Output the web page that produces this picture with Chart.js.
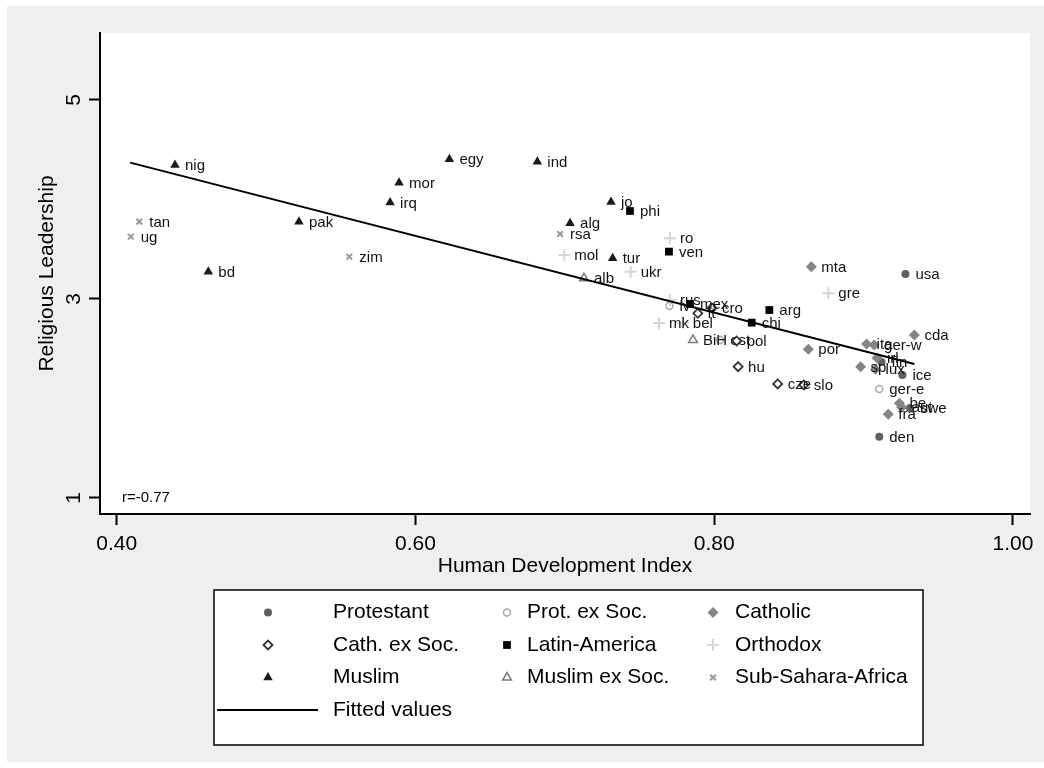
<!DOCTYPE html>
<html>
<head>
<meta charset="utf-8">
<script src="https://cdn.jsdelivr.net/npm/chart.js@4.4.1/dist/chart.umd.min.js"></script>
<style>
  html, body { margin: 0; padding: 0; background: #fff; }
  #wrap { width: 1044px; height: 768px; }
</style>
</head>
<body>
<div id="wrap"><canvas id="c" width="1044" height="768"></canvas></div>
<script>
// Human Development Index (x) vs. Religious Leadership (y), by country group

const protNames = ['usa', 'den', 'fin', 'ice', 'swe'];
const protHDI   = [0.928, 0.9105, 0.912, 0.926, 0.931];
const protRel   = [3.251, 1.616, 2.367, 2.236, 1.905];

const protSocNames = ['lv', 'est', 'ger-e'];
const protSocHDI   = [0.770, 0.804, 0.9105];
const protSocRel   = [2.930, 2.588, 2.095];

const cathNames = ['mta', 'por', 'cda', 'ita', 'ger-w', 'irl', 'sp', 'lux', 'be', 'aut', 'fra'];
const cathHDI   = [0.865, 0.863, 0.934, 0.902, 0.907, 0.909, 0.898, 0.908, 0.924, 0.9255, 0.9165];
const cathRel   = [3.325, 2.494, 2.638, 2.548, 2.538, 2.407, 2.320, 2.293, 1.952, 1.912, 1.841];

const cathSocNames = ['lt', 'cro', 'pol', 'hu', 'cze', 'slo'];
const cathSocHDI   = [0.789, 0.7985, 0.815, 0.816, 0.8425, 0.860];
const cathSocRel   = [2.856, 2.910, 2.578, 2.320, 2.146, 2.136];

const latinNames = ['phi', 'ven', 'mex', 'arg', 'chi'];
const latinHDI   = [0.7436, 0.7697, 0.7838, 0.8369, 0.8251];
const latinRel   = [3.884, 3.476, 2.950, 2.889, 2.762];

const orthNames = ['mol', 'ro', 'ukr', 'rus', 'mk', 'bel', 'gre'];
const orthHDI   = [0.6996, 0.7704, 0.7441, 0.7704, 0.763, 0.779, 0.8764];
const orthRel   = [3.442, 3.610, 3.274, 2.990, 2.759, 2.760, 3.057];

const muslNames = ['nig', 'bd', 'pak', 'irq', 'mor', 'egy', 'ind', 'jo', 'alg', 'tur'];
const muslHDI   = [0.439, 0.4613, 0.522, 0.583, 0.589, 0.6227, 0.6816, 0.7309, 0.7035, 0.732];
const muslRel   = [4.347, 3.274, 3.777, 3.970, 4.169, 4.404, 4.380, 3.975, 3.761, 3.409];

const muslSocNames = ['alb', 'BiH'];
const muslSocHDI   = [0.7128, 0.7858];
const muslSocRel   = [3.208, 2.588];

const ssaNames = ['tan', 'ug', 'zim', 'rsa'];
const ssaHDI   = [0.4151, 0.4094, 0.5557, 0.6968];
const ssaRel   = [3.777, 3.626, 3.425, 3.653];

// Linear fit, endpoints
const fitHDI = [0.409, 0.934];
const fitRel = [4.370, 2.347];

const xTicks = [0.40, 0.60, 0.80, 1.00];
const yTicks = [1, 3, 5];
const correlationText = 'r=-0.77';

const FONT = '"Liberation Sans", Arial, Helvetica, sans-serif';

function pts(xs, ys) { return xs.map((x, i) => ({ x: x, y: ys[i] })); }

function group(label, names, xs, ys, style) {
  return Object.assign({
    label: label,
    names: names,
    data: pts(xs, ys),
    showLine: false
  }, style);
}

const groups = [
  group('Protestant', protNames, protHDI, protRel,
    { pointStyle: 'circle', pointRadius: 4, backgroundColor: '#606060', borderColor: '#606060', borderWidth: 0 }),
  group('Prot. ex Soc.', protSocNames, protSocHDI, protSocRel,
    { pointStyle: 'circle', pointRadius: 3.5, backgroundColor: '#ffffff', borderColor: '#a8a8a8', borderWidth: 1.5 }),
  group('Catholic', cathNames, cathHDI, cathRel,
    { pointStyle: 'rectRot', pointRadius: 5.5, backgroundColor: '#858585', borderColor: '#858585', borderWidth: 0 }),
  group('Cath. ex Soc.', cathSocNames, cathSocHDI, cathSocRel,
    { pointStyle: 'rectRot', pointRadius: 4.5, backgroundColor: '#ffffff', borderColor: '#333333', borderWidth: 1.8 }),
  group('Latin-America', latinNames, latinHDI, latinRel,
    { pointStyle: 'rect', pointRadius: 5.5, backgroundColor: '#000000', borderColor: '#000000', borderWidth: 0 }),
  group('Orthodox', orthNames, orthHDI, orthRel,
    { pointStyle: 'cross', pointRadius: 6, backgroundColor: '#d6d6d6', borderColor: '#d6d6d6', borderWidth: 2 }),
  group('Muslim', muslNames, muslHDI, muslRel,
    { pointStyle: 'triangle', pointRadius: 5.5, backgroundColor: '#1a1a1a', borderColor: '#1a1a1a', borderWidth: 0 }),
  group('Muslim ex Soc.', muslSocNames, muslSocHDI, muslSocRel,
    { pointStyle: 'triangle', pointRadius: 5, backgroundColor: '#ffffff', borderColor: '#7a7a7a', borderWidth: 1.5 }),
  group('Sub-Sahara-Africa', ssaNames, ssaHDI, ssaRel,
    { pointStyle: 'crossRot', pointRadius: 4, backgroundColor: '#999999', borderColor: '#999999', borderWidth: 2 })
];

// later groups sit on top of earlier ones; fitted line on top of all
groups.forEach((g, i) => { g.order = 20 - i; });

const fitted = {
  label: 'Fitted values',
  data: pts(fitHDI, fitRel),
  showLine: true,
  pointRadius: 0,
  borderColor: '#000000',
  borderWidth: 2,
  fill: false,
  order: 0
};

function drawMarker(ctx, ds, x, y) {
  ctx.save();
  ctx.fillStyle = ds.backgroundColor;
  ctx.strokeStyle = ds.borderColor;
  ctx.lineWidth = ds.borderWidth;
  Chart.helpers.drawPoint(ctx, {
    pointStyle: ds.pointStyle,
    radius: ds.pointRadius,
    borderWidth: ds.borderWidth,
    rotation: 0
  }, x, y);
  ctx.restore();
}

const backgroundPlugin = {
  id: 'backdrop',
  beforeDraw(chart) {
    const { ctx, chartArea: a } = chart;
    ctx.save();
    ctx.fillStyle = '#ffffff';
    ctx.fillRect(0, 0, chart.width, chart.height);
    ctx.fillStyle = '#efefef';
    ctx.fillRect(7, 6, chart.width - 7, chart.height - 12);
    ctx.fillStyle = '#ffffff';
    ctx.fillRect(a.left, a.top, a.right - a.left, a.bottom - a.top);
    ctx.restore();
  }
};

const pointLabelPlugin = {
  id: 'pointLabels',
  afterDatasetDraw(chart, args) {
    const ds = chart.data.datasets[args.index];
    if (!ds.names) return;
    const ctx = chart.ctx;
    ctx.save();
    ctx.font = '15px ' + FONT;
    ctx.fillStyle = '#111111';
    ctx.textAlign = 'left';
    ctx.textBaseline = 'middle';
    args.meta.data.forEach((el, i) => {
      ctx.fillText(ds.names[i], el.x + 10, el.y + 1);
    });
    ctx.restore();
  }
};

const textPlugin = {
  id: 'axisText',
  afterDraw(chart) {
    const ctx = chart.ctx;
    const xs = chart.scales.x, ys = chart.scales.y;
    const a = chart.chartArea;
    ctx.save();
    ctx.fillStyle = '#000000';
    ctx.font = '21px ' + FONT;
    ctx.textAlign = 'center';
    ctx.textBaseline = 'middle';
    // x tick labels
    xTicks.forEach(v => ctx.fillText(v.toFixed(2), xs.getPixelForValue(v), 544));
    // y tick labels, rotated
    yTicks.forEach(v => {
      ctx.save();
      ctx.translate(74, ys.getPixelForValue(v));
      ctx.rotate(-Math.PI / 2);
      ctx.fillText(String(v), 0, 0);
      ctx.restore();
    });
    // axis titles
    ctx.fillText('Human Development Index', (a.left + a.right) / 2, 566);
    ctx.save();
    ctx.translate(47, (a.top + a.bottom) / 2);
    ctx.rotate(-Math.PI / 2);
    ctx.fillText('Religious Leadership', 0, 0);
    ctx.restore();
    // correlation note
    ctx.font = '15px ' + FONT;
    ctx.textAlign = 'left';
    ctx.fillText(correlationText, a.left + 22, a.bottom - 16);

    // legend
    const box = { x: 214, y: 590, w: 709, h: 155 };
    ctx.fillStyle = '#ffffff';
    ctx.fillRect(box.x, box.y, box.w, box.h);
    ctx.strokeStyle = '#000000';
    ctx.lineWidth = 1.5;
    ctx.strokeRect(box.x, box.y, box.w, box.h);
    const markX = [268, 507, 713];
    const textX = [333, 527, 735];
    const rowY = [612.5, 645, 677.5, 710];
    ctx.font = '21px ' + FONT;
    ctx.textAlign = 'left';
    ctx.textBaseline = 'middle';
    chart.data.datasets.forEach((ds, i) => {
      if (ds.names) {
        const r = Math.floor(i / 3), c = i % 3;
        drawMarker(ctx, ds, markX[c], rowY[r]);
        ctx.fillStyle = '#000000';
        ctx.fillText(ds.label, textX[c], rowY[r]);
      } else {
        ctx.strokeStyle = ds.borderColor;
        ctx.lineWidth = ds.borderWidth;
        ctx.beginPath();
        ctx.moveTo(217, rowY[3]);
        ctx.lineTo(318, rowY[3]);
        ctx.stroke();
        ctx.fillStyle = '#000000';
        ctx.fillText(ds.label, textX[0], rowY[3]);
      }
    });
    ctx.restore();
  }
};

const axisCommon = {
  type: 'linear',
  grid: { display: true, drawOnChartArea: false, drawTicks: true, tickLength: 11, tickWidth: 2, tickColor: '#000000' },
  border: { display: true, color: '#000000', width: 2 },
  ticks: { color: 'rgba(0,0,0,0)', font: { size: 21 } }
};

new Chart(document.getElementById('c'), {
  type: 'scatter',
  data: { datasets: groups.concat([fitted]) },
  options: {
    responsive: false,
    animation: false,
    events: [],
    devicePixelRatio: 1,
    layout: { padding: { left: 0, top: 33, right: 14, bottom: 0 } },
    plugins: { legend: { display: false }, tooltip: { enabled: false } },
    scales: {
      x: Object.assign({}, axisCommon, {
        position: 'bottom',
        min: 0.3888, max: 1.0114,
        afterBuildTicks: s => { s.ticks = xTicks.map(v => ({ value: v })); },
        afterFit: s => { s.height = 254; }
      }),
      y: Object.assign({}, axisCommon, {
        position: 'left',
        min: 0.839, max: 5.673,
        afterBuildTicks: s => { s.ticks = yTicks.map(v => ({ value: v })); },
        afterFit: s => { s.width = 100; }
      })
    }
  },
  plugins: [backgroundPlugin, pointLabelPlugin, textPlugin]
});
</script>
</body>
</html>
